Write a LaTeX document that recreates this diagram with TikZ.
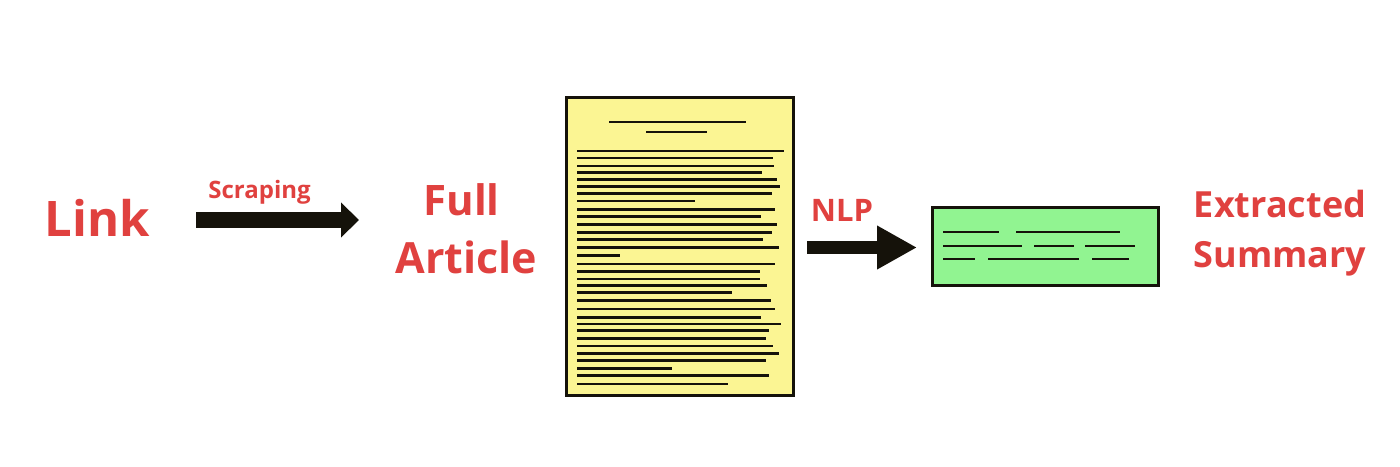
\documentclass[tikz,border=0pt]{standalone}
\usepackage{fontspec}
\setmainfont{Open Sans}
\usetikzlibrary{arrows.meta}
\definecolor{lblred}{HTML}{E0413F}
\definecolor{docyellow}{HTML}{FBF593}
\definecolor{sumgreen}{HTML}{91F491}
\definecolor{inkblack}{HTML}{15120A}
\tikzset{
  lbl/.style={text=lblred,font=\bfseries,anchor=base,inner sep=0pt},
  bigarrow/.style={draw=inkblack,line width=#1},
  textline/.style={draw=inkblack,line width=2.8pt},
  paper/.style={draw=inkblack,line width=3pt}
}
\begin{document}
\begin{tikzpicture}[x=1pt,y=-1pt]
\useasboundingbox (0,0) rectangle (1400,466);
% labels
\node[lbl,font=\bfseries\fontsize{49}{49}\selectfont] (link) at (97.5,236) {Link};
\node[lbl,font=\bfseries\fontsize{24}{24}\selectfont] (scr) at (259.5,198) {Scraping};
\node[lbl,font=\bfseries\fontsize{42}{42}\selectfont] (full) at (461.5,215) {Full};
\node[lbl,font=\bfseries\fontsize{43}{43}\selectfont] (art) at (466.5,273) {Article};
\node[lbl,font=\bfseries\fontsize{31}{31}\selectfont] (nlp) at (842,221) {NLP};
\node[lbl,font=\bfseries\fontsize{36}{36}\selectfont] (ext) at (1280,217) {Extracted};
\node[lbl,font=\bfseries\fontsize{36}{36}\selectfont] (sum) at (1280,267) {Summary};
% document
\filldraw[paper,fill=docyellow] (566,97) rectangle (793,395);
\coordinate (doc) at (679.5,246);
\draw[textline] (609,122) -- (746,122);
\draw[textline] (646,132) -- (707,132);
\foreach \y/\x in {151/784,158/773.3,166/774.3,172.3/762.3,179.7/777.3,186.3/779.7,193.3/772,201/695,209.3/774.7,216.7/761,224.3/777.3,232.7/772,239.3/763.3,247.3/778.7,255.3/620,264/774.7,271.7/760,279/760,285.7/767.3,292.7/732,300.7/770.7,309/774.7,317.3/761.3,324/781.3,330.7/769,338.7/766.3,346/773.3,353.7/778.7,360.7/766.3,368.7/672.3,375.7/769,384/728.3}
  \draw[textline] (577,\y) -- (\x,\y);
% summary box
\filldraw[paper,fill=sumgreen] (932,207) rectangle (1158,285);
\foreach \a/\b/\y in {943/999/232,1016/1120/232,943/1022/246,1034/1074/246,1085/1135/246,943/975/259,988/1079/259,1092/1129/259}
  \draw[textline] (\a,\y) -- (\b,\y);
% arrows
\coordinate (a1s) at (196,220);
\coordinate (a1e) at (359,220);
\draw[bigarrow=16pt,-{Triangle[length=18pt,width=34pt,fill=inkblack]}] (a1s) -- (a1e);
\coordinate (a2s) at (807,247.5);
\coordinate (a2e) at (917,247.5);
\draw[bigarrow=13pt,-{Triangle[length=40pt,width=41pt,fill=inkblack]}] (a2s) -- (a2e);
\end{tikzpicture}
\end{document}
